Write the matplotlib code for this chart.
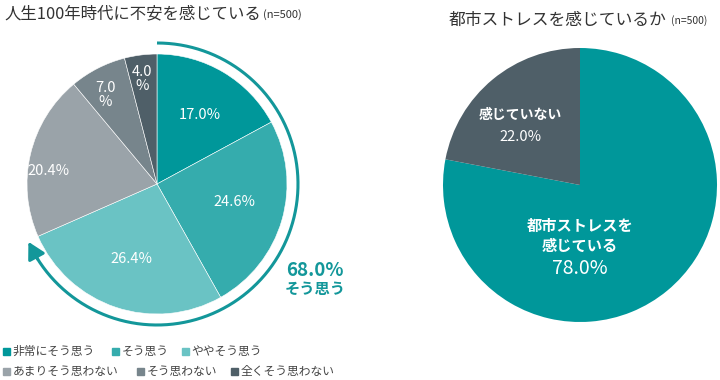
import numpy as np
import matplotlib
matplotlib.use("Agg")
import matplotlib.pyplot as plt
from matplotlib.patches import Rectangle

plt.rcParams["font.family"] = ["Noto Sans CJK JP", "DejaVu Sans"]

# left chart data
anxiety_labels = ["非常にそう思う", "そう思う", "ややそう思う", "あまりそう思わない", "そう思わない", "全くそう思わない"]
anxiety_values = [17.0, 24.6, 26.4, 20.4, 7.0, 4.0]
anxiety_texts = ["17.0%", "24.6%", "26.4%", "20.4%", "7.0\n%", "4.0\n%"]
agree_total = 68.0

# right chart data
stress_labels = ["都市ストレスを\n感じている", "感じていない"]
stress_values = [78.0, 22.0]

anxiety_colors = ["#00979a", "#35acad", "#6ac3c4", "#9aa3a9", "#77858c", "#4f5f68"]
stress_colors = ["#00979a", "#4f5f68"]
teal = "#13979a"

W, H = 720, 380
fig = plt.figure(figsize=(7.2, 3.8), dpi=100)
ax = fig.add_axes([0, 0, 1, 1])


def py(y):
    # image row -> axes y
    return H - y


# ---- left pie ----
lc = (157, py(184))
lr = 130
wedges, _ = ax.pie(anxiety_values, colors=anxiety_colors, startangle=90, counterclock=False,
                   center=lc, radius=lr, wedgeprops=dict(edgecolor="white", linewidth=0.4),
                   frame=True)
label_pos = [(200, 115), (234, 202), (131, 259), (49, 171), (105, 95), (142, 79)]
for (x, y), txt in zip(label_pos, anxiety_texts):
    ax.text(x, py(y), txt, ha="center", va="center", color="white", fontsize=10.5,
            linespacing=1.05)

# arc arrow for the "agree" share
ar = 141
end_ang = 90 - agree_total * 3.6
theta = np.linspace(90, end_ang + 5, 200)
ax.plot(lc[0] + ar * np.cos(np.deg2rad(theta)), lc[1] + ar * np.sin(np.deg2rad(theta)),
        color=teal, lw=2.2, solid_capstyle="butt")
t0 = np.deg2rad(end_ang + 7)
t1 = np.deg2rad(end_ang - 1)
ax.annotate("", xy=(lc[0] + ar * np.cos(t1), lc[1] + ar * np.sin(t1)),
            xytext=(lc[0] + ar * np.cos(t0), lc[1] + ar * np.sin(t0)),
            arrowprops=dict(arrowstyle="-|>,head_length=1.0,head_width=0.55", color=teal,
                            lw=2.2, shrinkA=0, shrinkB=0))
ax.text(315, py(270), f"{agree_total:.1f}%", ha="center", va="center", color=teal,
        fontsize=13.5, fontweight="bold")
ax.text(315, py(289), "そう思う", ha="center", va="center", color=teal,
        fontsize=11, fontweight="bold")

# ---- right pie ----
rc = (580, py(185))
rr = 137
ax.pie(stress_values, colors=stress_colors, startangle=90, counterclock=False,
       center=rc, radius=rr, frame=True)
ax.text(580, py(236), stress_labels[0], ha="center", va="center", color="white",
        fontsize=11, fontweight="bold", linespacing=1.25)
ax.text(580, py(268), f"{stress_values[0]:.1f}%", ha="center", va="center", color="white",
        fontsize=14)
ax.text(520, py(115), stress_labels[1], ha="center", va="center", color="white",
        fontsize=10, fontweight="bold")
ax.text(520, py(137), f"{stress_values[1]:.1f}%", ha="center", va="center", color="white",
        fontsize=10.5)

ax.set_xlim(0, W)
ax.set_ylim(0, H)
ax.set_aspect("equal")
ax.axis("off")

# ---- titles ----
ax.text(4, py(14), "人生100年時代に不安を感じている", ha="left", va="center",
        fontsize=11.8, color="#333333")
ax.text(263, py(15), "(n=500)", ha="left", va="center", fontsize=8, color="#333333")
ax.text(449, py(20), "都市ストレスを感じているか", ha="left", va="center",
        fontsize=12.1, color="#333333")
ax.text(671, py(21), "(n=500)", ha="left", va="center", fontsize=7.5, color="#333333")

# ---- legend ----
legend_pos = [(3, 351), (112, 351), (182, 351), (3, 371), (137, 371), (231, 371)]
for (x, y), lab, col in zip(legend_pos, anxiety_labels, anxiety_colors):
    ax.add_patch(Rectangle((x, py(y) - 3.5), 7, 7, color=col))
    ax.text(x + 9.5, py(y), lab, ha="left", va="center", fontsize=8.5, color="#444444")

fig.savefig("out.png", dpi=100)
